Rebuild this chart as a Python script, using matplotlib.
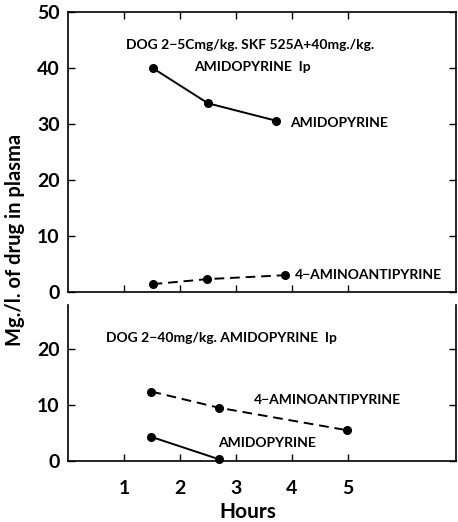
import matplotlib
matplotlib.use("Agg")
import matplotlib.pyplot as plt

# Top panel: DOG 2 - SKF 525A + amidopyrine
top_amido_x = [1.51, 2.50, 3.71]
top_amido_y = [40.0, 33.7, 30.6]
top_aap_x = [1.51, 2.49, 3.87]
top_aap_y = [1.4, 2.3, 3.0]

# Bottom panel: DOG 2 - amidopyrine only
bot_aap_x = [1.49, 2.70, 4.98]
bot_aap_y = [12.4, 9.5, 5.5]
bot_amido_x = [1.49, 2.70]
bot_amido_y = [4.3, 0.3]

x_ticks = [1, 2, 3, 4, 5]
top_yticks = [0, 10, 20, 30, 40, 50]
bot_yticks = [0, 10, 20]

FONT = ["Lato", "DejaVu Sans"]
plt.rcParams['font.family'] = FONT

fig = plt.figure(figsize=(4.58, 5.22), dpi=100)
W, H = 458, 522
ax1 = fig.add_axes([68 / W, 1 - 292 / H, 388 / W, 280 / H])
ax2 = fig.add_axes([68 / W, 1 - 461 / H, 388 / W, 156 / H])

xmax = 388 / 56
for ax in (ax1, ax2):
    ax.set_xlim(0, xmax)
    ax.set_xticks(x_ticks)
    for s in ax.spines.values():
        s.set_linewidth(1.2)
        s.set_color('black')

ax1.set_ylim(0, 50)
ax1.set_yticks(top_yticks)
ax1.set_yticklabels([str(v) for v in top_yticks], fontsize=14, fontweight='bold')
ax1.tick_params(axis='x', direction='in', top=True, bottom=True, labelbottom=False, length=5, width=1)
ax1.tick_params(axis='y', direction='in', left=True, right=True, length=5, width=1, pad=6)

ax2.set_ylim(0, 156 / 5.6)
ax2.set_yticks(bot_yticks)
ax2.set_yticklabels([str(v) for v in bot_yticks], fontsize=14, fontweight='bold')
ax2.spines['top'].set_visible(False)
ax2.tick_params(axis='x', direction='in', top=False, bottom=True, length=5, width=1,
                labelsize=14, pad=14)
for lab in ax2.get_xticklabels():
    lab.set_fontweight('bold')
ax2.tick_params(axis='y', direction='in', left=True, right=True, length=5, width=1, pad=6)

lw = 1.4
ms = 5.5
ax1.plot(top_amido_x, top_amido_y, '-', color='black', lw=lw, marker='o', ms=ms)
ax1.plot(top_aap_x, top_aap_y, '--', color='black', lw=lw, marker='o', ms=ms, dashes=(5, 3))
ax2.plot(bot_aap_x, bot_aap_y, '--', color='black', lw=lw, marker='o', ms=ms, dashes=(5, 3))
ax2.plot(bot_amido_x, bot_amido_y, '-', color='black', lw=lw, marker='o', ms=ms, clip_on=False)

tk = dict(fontsize=10, fontweight='bold', color='black')
ax1.text(3.25, 44.1, "DOG 2\u22125Cmg/kg. SKF 525A+40mg./kg.", ha='center', va='center', **tk)
ax1.text(3.3, 40.2, "AMIDOPYRINE  Ip", ha='center', va='center', **tk)
ax1.text(3.96, 30.2, "AMIDOPYRINE", ha='left', va='center', **tk)
ax1.text(4.05, 3.0, "4\u2212AMINOANTIPYRINE", ha='left', va='center', **tk)

ax2.text(0.68, 21.9, "DOG 2\u221240mg/kg. AMIDOPYRINE  Ip", ha='left', va='center', **tk)
ax2.text(3.32, 10.9, "4\u2212AMINOANTIPYRINE", ha='left', va='center', **tk)
ax2.text(2.68, 3.3, "AMIDOPYRINE", ha='left', va='center', **tk)

fig.text(15 / W, 1 - 240 / H, "Mg./l. of drug in plasma", rotation=90, ha='center', va='center',
         fontsize=14.5, fontweight='bold')
fig.text((68 + 180) / W, 1 - 512 / H, "Hours", ha='center', va='center', fontsize=15, fontweight='bold')

fig.savefig("out.png", dpi=100)
